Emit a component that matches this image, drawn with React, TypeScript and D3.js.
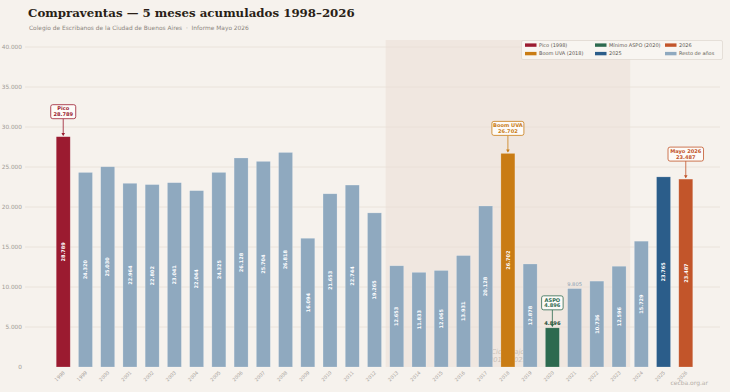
import React from 'react';
import * as d3 from 'd3';

// compraventas, primeros 5 meses de cada año
const years = [
  '1998', '1999', '2000', '2001', '2002', '2003', '2004', '2005', '2006', '2007',
  '2008', '2009', '2010', '2011', '2012', '2013', '2014', '2015', '2016', '2017',
  '2018', '2019', '2020', '2021', '2022', '2023', '2024', '2025', '2026',
];
const deeds = [
  28789, 24320, 25030, 22964, 22802, 23041, 22044, 24325, 26128, 25704,
  26818, 16094, 21653, 22744, 19265, 12653, 11833, 12065, 13931, 20128,
  26702, 12878, 4896, 9805, 10736, 12596, 15729, 23765, 23487,
];
const yTicks = [0, 5000, 10000, 15000, 20000, 25000, 30000, 35000, 40000];

const highlightYears = ['1998', '2018', '2020', '2025', '2026'];
const highlightColors = ['#9b1b30', '#c97c14', '#2d6a4f', '#2b5d8a', '#c2552a'];
const restColor = '#8fa9bf';

const legendLabels = ['Pico (1998)', 'Boom UVA (2018)', 'Mínimo ASPO (2020)', '2025', '2026', 'Resto de años'];
const legendColors = ['#9b1b30', '#c97c14', '#2d6a4f', '#2b5d8a', '#c2552a', restColor];

const calloutYears = ['1998', '2018', '2020', '2026'];
const calloutTitles = ['Pico', 'Boom UVA', 'ASPO', 'Mayo 2026'];

const lowCycle = ['2013', '2023'];

const W = 730;
const H = 392;
const margin = { top: 47, right: 29, bottom: 25, left: 48 };

const locale = d3.formatLocale({ decimal: ',', thousands: '.', grouping: [3], currency: ['$', ''] });
const fmt = locale.format(',d');

const sans = '"DejaVu Sans", Verdana, sans-serif';

function colorOf(year: string) {
  const i = highlightYears.indexOf(year);
  return i >= 0 ? highlightColors[i] : restColor;
}

export default function App() {
  const plotBottom = H - margin.bottom;
  const x = d3
    .scaleBand<string>()
    .domain(years)
    .range([margin.left, W - margin.right])
    .padding(0.37);
  const y = d3.scaleLinear().domain([0, 40000]).range([plotBottom, margin.top]);
  const bw = x.bandwidth();
  const step = x.step();

  const shadeX0 = (x(lowCycle[0]) as number) - (step - bw) / 2;
  const shadeX1 = (x(lowCycle[1]) as number) + bw + (step - bw) / 2;

  return (
    <svg
      width={W}
      height={H}
      viewBox={`0 0 ${W} ${H}`}
      style={{ position: 'fixed', left: 0, top: 0, display: 'block' }}
    >
      <rect x={0} y={0} width={W} height={H} fill="#f6f2ed" />

      <text x={28} y={16.5} fontFamily='"DejaVu Serif", Georgia, serif' fontWeight="bold" fontSize={11.8} fill="#2a1f17">
        Compraventas — 5 meses acumulados 1998–2026
      </text>
      <text x={29} y={29.5} fontFamily={sans} fontSize={5.9} fill="#8c8680">
        {'Colegio de Escribanos de la Ciudad de Buenos Aires\u00a0\u00a0·\u00a0\u00a0Informe Mayo 2026'}
      </text>

      {/* ciclo bajo */}
      <rect x={shadeX0} y={40} width={shadeX1 - shadeX0} height={plotBottom - 40} fill="#efe5dd" opacity={0.85} />

      {/* grilla y eje y */}
      {yTicks.map((t) => (
        <g key={t}>
          {t > 0 && <line x1={25} x2={W - 10} y1={y(t)} y2={y(t)} stroke="#e8e0d7" strokeWidth={0.8} />}
          <text x={22} y={y(t)} dy="0.35em" textAnchor="end" fontFamily={sans} fontSize={5.8} fill="#a09a94">
            {fmt(t)}
          </text>
        </g>
      ))}

      <text textAnchor="middle" fontFamily={sans} fontStyle="italic" fontSize={6.8} fill="#c9c0b8">
        <tspan x={(shadeX0 + shadeX1) / 2} y={354}>Ciclo bajo</tspan>
        <tspan x={(shadeX0 + shadeX1) / 2} y={362}>2013–2023</tspan>
      </text>

      {/* barras */}
      {years.map((yr, i) => {
        const v = deeds[i];
        const bx = x(yr) as number;
        const top = y(v);
        const cx = bx + bw / 2;
        const col = colorOf(yr);
        const inside = v >= 10000;
        return (
          <g key={yr}>
            <rect x={bx} y={top} width={bw} height={plotBottom - top} fill={col} stroke="#ffffff" strokeOpacity={0.35} strokeWidth={0.6} />
            {inside ? (
              <text
                transform={`translate(${cx},${(top + plotBottom) / 2}) rotate(-90)`}
                textAnchor="middle"
                dy="0.35em"
                fontFamily={sans}
                fontWeight="bold"
                fontSize={5}
                fill="#ffffff"
              >
                {fmt(v)}
              </text>
            ) : (
              <text
                x={cx}
                y={top - 2.5}
                textAnchor="middle"
                fontFamily={sans}
                fontWeight={col === restColor ? 'normal' : 'bold'}
                fontSize={5.2}
                fill={col === restColor ? '#8fa2b4' : '#1f4d38'}
              >
                {fmt(v)}
              </text>
            )}
            <text
              transform={`translate(${cx + 2},${plotBottom + 6}) rotate(-45)`}
              textAnchor="end"
              fontFamily={sans}
              fontSize={4.8}
              fill="#a8a29c"
            >
              {yr}
            </text>
          </g>
        );
      })}

      {/* anotaciones */}
      {calloutYears.map((yr, k) => {
        const v = deeds[years.indexOf(yr)];
        const col = colorOf(yr);
        const cx = (x(yr) as number) + bw / 2;
        const top = y(v);
        const title = calloutTitles[k];
        const label = fmt(v);
        const bwBox = Math.max(title.length, label.length) * 3.5 + 4;
        const bh = 14;
        const by = top - 18 - bh;
        return (
          <g key={yr}>
            <line x1={cx} x2={cx} y1={by + bh} y2={top - 1.5} stroke={col} strokeWidth={0.8} />
            <path d={`M${cx - 1.8},${top - 3.8} L${cx + 1.8},${top - 3.8} L${cx},${top - 0.8} Z`} fill={col} />
            <rect x={cx - bwBox / 2} y={by} width={bwBox} height={bh} rx={2} fill="#fdfbf8" stroke={col} strokeWidth={0.8} />
            <text textAnchor="middle" fontFamily={sans} fontWeight="bold" fontSize={5.1} fill={col}>
              <tspan x={cx} y={by + 5.8}>{title}</tspan>
              <tspan x={cx} y={by + 11.6}>{label}</tspan>
            </text>
          </g>
        );
      })}

      {/* leyenda */}
      <rect x={521.5} y={40.5} width={201} height={19} rx={1.5} fill="#f8f5f1" stroke="#ddd6ce" strokeWidth={0.7} />
      {legendLabels.map((lab, i) => {
        const col = Math.floor(i / 2);
        const row = i % 2;
        const lx = 525 + col * 70;
        const ly = 45 + row * 8.5;
        return (
          <g key={lab}>
            <rect x={lx} y={ly - 1.6} width={11.5} height={3.4} fill={legendColors[i]} />
            <text x={lx + 14} y={ly} dy="0.35em" fontFamily={sans} fontSize={5} fill="#5d5853">
              {lab}
            </text>
          </g>
        );
      })}

      <text x={708} y={385} textAnchor="end" fontFamily={sans} fontSize={6} fill="#b5aea7">
        cecba.org.ar
      </text>
    </svg>
  );
}
